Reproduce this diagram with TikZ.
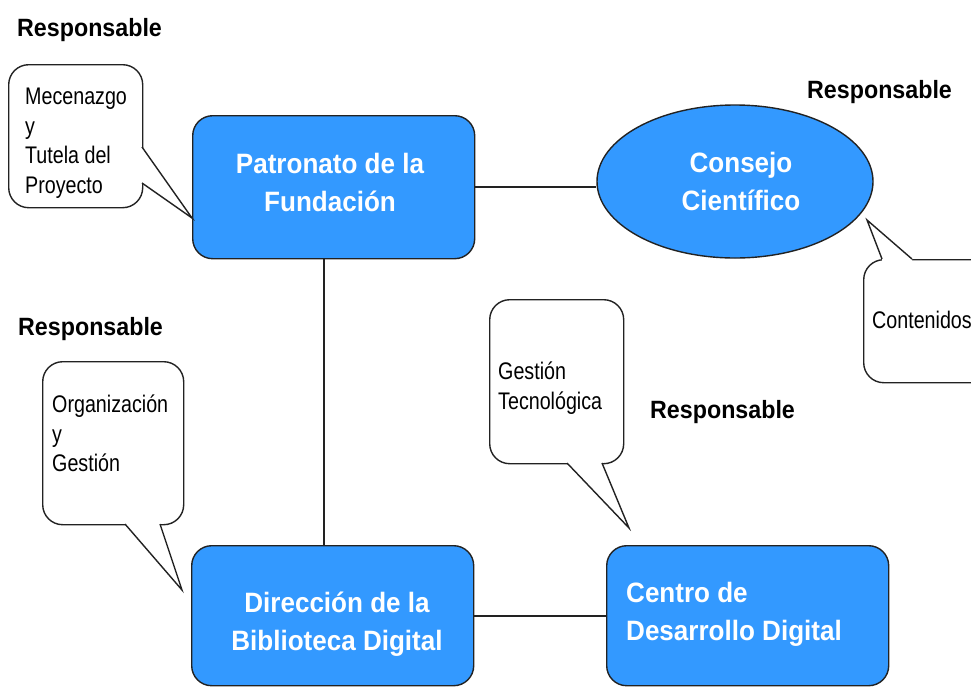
\documentclass[tikz,border=0pt]{standalone}
\usepackage{fontspec}
\setmainfont{Liberation Sans}
\newfontfamily\boxfont{Liberation Sans}[FakeStretch=0.93]
\newfontfamily\callfont{Liberation Sans}[FakeStretch=0.82]
\usetikzlibrary{shapes.geometric}
\definecolor{boxblue}{RGB}{51,153,255}
\definecolor{edge}{RGB}{34,34,34}
\begin{document}
\begin{tikzpicture}[x=1pt,y=-1pt,
  orgbox/.style={draw=edge, line width=1.4pt, fill=boxblue, rounded corners=20pt, minimum width=282pt, minimum height=140pt, anchor=north west, inner sep=0pt},
  orgoval/.style={draw=edge, line width=1.4pt, fill=boxblue, ellipse, minimum width=276pt, minimum height=153pt, inner sep=0pt},
  callbox/.style={draw=edge, line width=1.4pt, fill=white, rounded corners=20pt, anchor=north west, inner sep=0pt},
  boxtxt/.style={font=\boxfont\bfseries\fontsize{28}{38}\selectfont, text=white, inner sep=0pt},
  calltxt/.style={font=\callfont\fontsize{24}{29.5}\selectfont, text=black, align=left, anchor=north west, inner sep=0pt},
  resp/.style={font=\boxfont\bfseries\fontsize{25}{30}\selectfont, text=black, anchor=base west, inner sep=0pt},
  link/.style={draw=edge, line width=1.6pt},
  tailedge/.style={draw=edge, line width=1.4pt, line join=miter}]
\useasboundingbox (0,0) rectangle (971,686);
\clip (0,0) rectangle (971,686);

% main shapes
\node[orgbox, minimum height=143pt] (pat) at (192,115) {};
\node[orgoval] (con) at (735,181.5) {};
\node[orgbox] (dir) at (191,545) {};
\node[orgbox] (cen) at (606,545) {};

% connectors
\draw[link] (pat.east) -- (pat.east -| con.west);
\draw[link] ([xshift=-10pt]pat.south) -- ([xshift=-10pt]pat.south |- dir.north);
\draw[link] (dir.east) -- (cen.west);

% main texts
\node[boxtxt, anchor=north, align=center] (patT) at (330,153) {Patronato de la\\Fundación};
\node[boxtxt, anchor=north, align=center] (conT) at (741,152) {Consejo\\Científico};
\node[boxtxt, anchor=north, align=center] (dirT) at (337,592) {Dirección de la\\Biblioteca Digital};
\node[boxtxt, anchor=north west, align=left] (cenT) at (626,582) {Centro de\\Desarrollo Digital};

% callouts
\node[callbox, minimum width=134pt, minimum height=143pt] (c1) at (8,64) {};
\node[callbox, minimum width=141pt, minimum height=163pt] (c2) at (42,361) {};
\node[callbox, minimum width=134pt, minimum height=164pt] (c3) at (489,299) {};
\node[callbox, minimum width=132pt, minimum height=123pt] (c4) at (863,259) {};

% callout tails
\coordinate (t1) at (192,218);
\coordinate (t2) at (182,590);
\coordinate (t3) at (629,528);
\coordinate (t4) at (867,220);
\fill[white] (139,147) -- (142,147) -- (t1) -- (142,183) -- (139,183) -- cycle;
\draw[tailedge] (142,147) -- (t1) -- (142,183);
\fill[white] (125,521) -- (125,524) -- (t2) -- (160,524) -- (160,521) -- cycle;
\draw[tailedge] (125,524) -- (t2) -- (160,524);
\fill[white] (567,460) -- (567,463) -- (t3) -- (602,463) -- (602,460) -- cycle;
\draw[tailedge] (567,463) -- (t3) -- (602,463);
\fill[white] (882,262) -- (882,259) -- (t4) -- (912,259) -- (912,262) -- cycle;
\draw[tailedge] (882,259) -- (t4) -- (912,259);

% callout texts
\node[calltxt] (c1T) at (25,88) {Mecenazgo\\y\\Tutela del\\Proyecto};
\node[calltxt] (c2T) at (52,395) {Organización\\y\\Gestión};
\node[calltxt] (c3T) at (498,362) {Gestión\\Tecnológica};
\node[calltxt, anchor=base west] (c4T) at (872,328) {Contenidos};

% labels
\node[resp] (r1) at (17,36) {Responsable};
\node[resp] (r2) at (807,98) {Responsable};
\node[resp] (r3) at (18,335) {Responsable};
\node[resp] (r4) at (650,418) {Responsable};
\end{tikzpicture}
\end{document}
